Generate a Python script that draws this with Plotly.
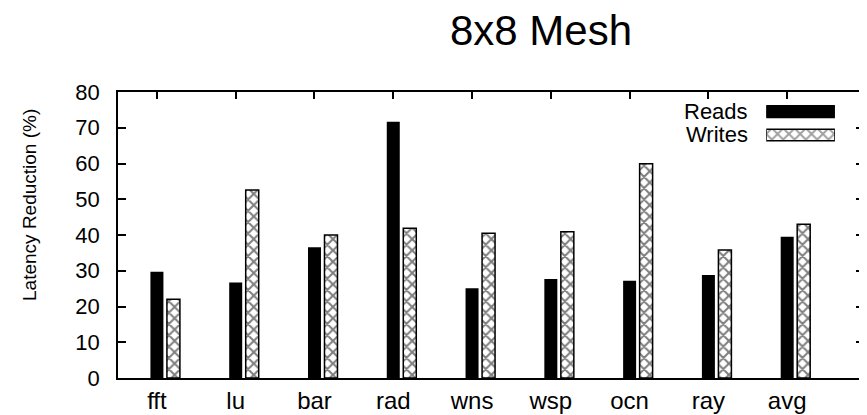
import plotly.graph_objects as go

categories = ["fft", "lu", "bar", "rad", "wns", "wsp", "ocn", "ray", "avg"]
reads = [29.7, 26.7, 36.6, 71.7, 25.1, 27.7, 27.2, 28.8, 39.5]
writes = [22.0, 52.6, 40.0, 41.9, 40.5, 40.9, 59.9, 35.8, 43.0]
y_ticks = [0, 10, 20, 30, 40, 50, 60, 70, 80]
series_names = ["Reads", "Writes"]

FONT = "Liberation Sans, Arial, Helvetica, sans-serif"
idx = list(range(len(categories)))
BW = 0.165

# page has an 8px body margin; size the figure to compensate
W, H = 859, 407

fig = go.Figure()
fig.add_trace(go.Bar(
    x=idx, y=reads, name=series_names[0], width=BW, offset=-BW / 2,
    marker=dict(color="black", line=dict(color="black", width=0)),
    showlegend=False,
))
fig.add_trace(go.Bar(
    x=idx, y=writes, name=series_names[1], width=BW, offset=0.127,
    marker=dict(color="white", line=dict(color="black", width=1.5),
                pattern=dict(shape="x", fgcolor="black", bgcolor="white",
                             size=8, solidity=0.45)),
    showlegend=False,
))

# legend swatches (drawn on a small helper axis)
fig.add_trace(go.Bar(
    x=[1, 1], y=[1, 0], orientation="h", width=0.5,
    xaxis="x3", yaxis="y3", hoverinfo="skip", showlegend=False,
    marker=dict(color=["black", "white"], line=dict(color="black", width=1.5),
                pattern=dict(shape=["", "x"], fgcolor="black", bgcolor="white",
                             size=8, solidity=0.45)),
))

fig.update_layout(
    width=W, height=H,
    margin=dict(l=110, r=1, t=84, b=37),
    paper_bgcolor="white", plot_bgcolor="white",
    barmode="overlay",
    font=dict(family=FONT, color="black"),
    title=dict(text="8x8 Mesh", x=533 / W, xanchor="center", xref="container",
               y=1 - 22 / H, yanchor="middle", yref="container",
               font=dict(size=42, family=FONT, color="black")),
    xaxis=dict(
        range=[-0.494, 8.975], tickvals=idx, ticktext=categories,
        ticks="inside", ticklen=7, tickwidth=1.5, tickcolor="black",
        showline=True, linecolor="black", linewidth=1.5, mirror="ticks",
        showgrid=False, zeroline=False, tickfont=dict(size=24, family=FONT),
    ),
    yaxis=dict(
        range=[0, 80], tickvals=y_ticks,
        ticks="inside", ticklen=8, tickwidth=1.5, tickcolor="black",
        showline=True, linecolor="black", linewidth=1.5, mirror="ticks",
        showgrid=False, zeroline=False, tickfont=dict(size=22, family=FONT),
        ticklabelstandoff=12,
    ),
    xaxis3=dict(domain=[0.869, 0.961], range=[0, 1], anchor="y3",
                visible=False, fixedrange=True),
    yaxis3=dict(domain=[0.809, 0.972], range=[-0.5, 1.5], anchor="x3",
                visible=False, fixedrange=True),
    annotations=[
        dict(text="Latency Reduction (%)", textangle=-90, xref="paper", yref="paper",
             x=-0.118, y=0.605, xanchor="center", yanchor="middle", showarrow=False,
             font=dict(size=19, family=FONT, color="black")),
        dict(text=series_names[0], xref="paper", yref="y3", x=0.847, y=1,
             xanchor="right", yanchor="middle", showarrow=False,
             font=dict(size=22, family=FONT, color="black")),
        dict(text=series_names[1], xref="paper", yref="y3", x=0.847, y=0,
             xanchor="right", yanchor="middle", showarrow=False,
             font=dict(size=22, family=FONT, color="black")),
    ],
)

fig.write_html("out.html")
